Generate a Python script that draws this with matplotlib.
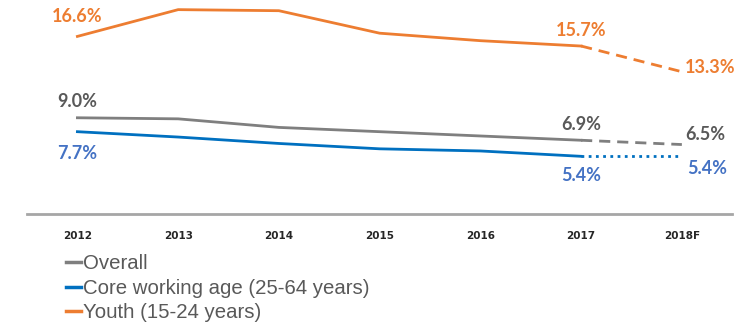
import numpy as np
import matplotlib.pyplot as plt
from matplotlib.lines import Line2D

years = ["2012", "2013", "2014", "2015", "2016", "2017", "2018F"]
overall = [9.0, 8.9, 8.1, 7.7, 7.3, 6.9, 6.5]
core = [7.7, 7.2, 6.6, 6.1, 5.9, 5.4, 5.4]
youth = [16.6, 19.1, 19.0, 16.9, 16.2, 15.7, 13.3]

ORANGE = "#ED7D31"
GRAY = "#7F7F7F"
GRAY_TXT = "#595959"
BLUE = "#0070C0"
BLUE_TXT = "#4472C4"

x = np.arange(len(years))
actual = slice(0, 6)   # 2012-2017
fcst = slice(5, 7)     # 2017-2018F forecast

fig = plt.figure(figsize=(7.51, 3.22), dpi=100)
ax = fig.add_axes([0.036, 0.335, 0.939, 0.665])

ax.plot(x[actual], youth[actual], color=ORANGE, lw=2)
ax.plot(x[fcst], youth[fcst], color=ORANGE, lw=2, ls=(0, (4, 2.5)))
ax.plot(x[actual], overall[actual], color=GRAY, lw=2)
ax.plot(x[fcst], overall[fcst], color=GRAY, lw=2, ls=(0, (4, 2.5)))
ax.plot(x[actual], core[actual], color=BLUE, lw=2)
ax.plot(x[fcst], core[fcst], color=BLUE, lw=2, ls=(0, (1, 1.6)))

lbl = dict(fontsize=13, fontweight="bold", family="Lato")

def pct(v):
    return f"{v:.1f}%"

def tag(v, i, color, dx, dy):
    ax.annotate(pct(v), (x[i], v), xytext=(dx, dy), textcoords="offset points",
                ha="center", va="center", color=color, **lbl)

# first-year labels
tag(youth[0], 0, ORANGE, 0, 14)
tag(overall[0], 0, GRAY_TXT, 0, 12)
tag(core[0], 0, BLUE_TXT, 0, -16)
# 2017 labels
tag(youth[5], 5, ORANGE, 0, 11)
tag(overall[5], 5, GRAY_TXT, 0, 11)
tag(core[5], 5, BLUE_TXT, 0, -14)
# forecast labels
tag(youth[6], 6, ORANGE, 20, 3)
tag(overall[6], 6, GRAY_TXT, 17, 7)
tag(core[6], 6, BLUE_TXT, 18, -9)

ax.set_xlim(-0.5, 6.5)
ax.set_ylim(0, 20)
ax.set_xticks(x)
ax.set_xticklabels(years, fontsize=7.5, fontweight="bold", color="#262626")
ax.set_yticks([])
ax.tick_params(axis="x", length=0, pad=12)
for s in ["top", "right", "left"]:
    ax.spines[s].set_visible(False)
ax.spines["bottom"].set_color("#A6A6A6")
ax.spines["bottom"].set_linewidth(2)

handles = [Line2D([], [], color=GRAY, lw=2.5),
           Line2D([], [], color=BLUE, lw=2.5),
           Line2D([], [], color=ORANGE, lw=2.5)]
names = ["Overall", "Core working age (25-64 years)", "Youth (15-24 years)"]
leg = fig.legend(handles, names, loc="upper left", bbox_to_anchor=(0.088, 0.21),
                 frameon=False, handlelength=0.75, handletextpad=0.1,
                 labelspacing=0.26, borderpad=0, borderaxespad=0,
                 prop={"family": "Liberation Sans", "size": 14.7})
for t in leg.get_texts():
    t.set_color(GRAY_TXT)

fig.savefig("out.png", dpi=100)
